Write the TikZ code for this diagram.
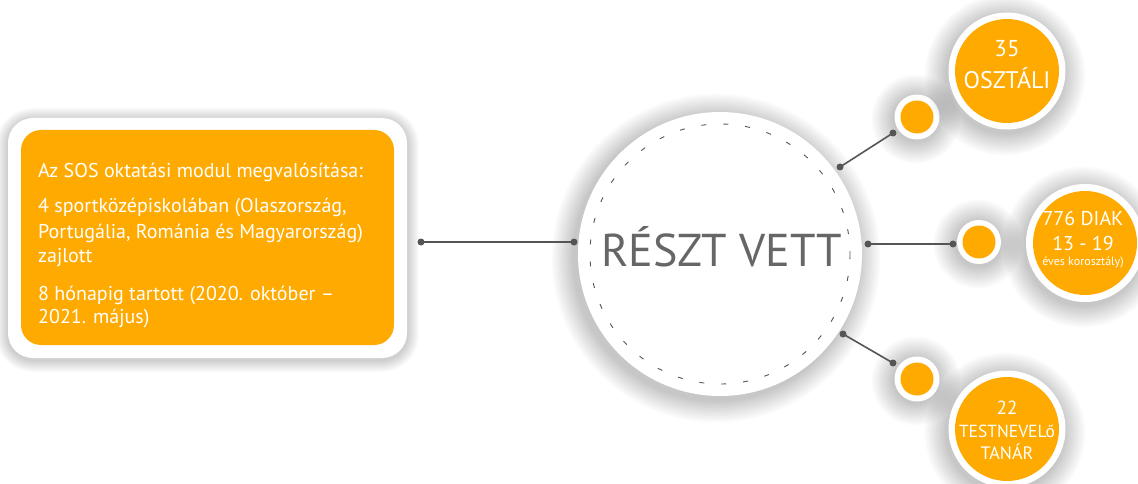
\documentclass[tikz,border=0pt]{standalone}
\usepackage{fontspec}
\setmainfont{PT Sans}
\definecolor{org}{HTML}{FFAA00}
\definecolor{ln}{HTML}{555555}
\definecolor{txtgray}{HTML}{666666}
\newcommand\halo[3]{\foreach \k in {1,...,14}{\fill[black,opacity=0.016] (#1,#2) circle ({#3+\k*1.6});}}
\begin{document}
\begin{tikzpicture}[x=1pt,y=-1pt,
 dot/.style={circle,fill=ln,inner sep=0pt,minimum size=7pt},
 conn/.style={draw=ln,line width=1.6pt},
 ringw/.style={circle,fill=white,inner sep=0pt},
 bub/.style={circle,fill=org,inner sep=0pt},
 wt/.style={text=white,inner sep=0pt,anchor=base},
 bt/.style={text=white,inner sep=0pt,anchor=base west,font=\fontsize{20}{24}\selectfont}
]
\useasboundingbox (0,0) rectangle (1138,484);
\fill[white] (0,0) rectangle (1138,484);
% left box
\foreach \k in {1,...,12}{\fill[black,opacity=0.014,rounded corners={(25+\k)*1pt}] ({8-\k},{120-\k}) rectangle ({407+\k},{360+\k});}
\node[fill=white,rounded corners=25pt,minimum width=399pt,minimum height=240pt,inner sep=0pt] (boxo) at (207.5,238) {};
\node[fill=org,rounded corners=20pt,minimum width=373pt,minimum height=215pt,inner sep=0pt] (box) at (207.5,237.5) {};
\node[bt] (t1) at (38,178) {Az SOS oktatási modul megvalósítása:};
\node[bt] (t2) at (38,212) {4 sportközépiskolában (Olaszország,};
\node[bt] (t3) at (38,238) {Portugália, Románia és Magyarország)};
\node[bt] (t4) at (38,262) {zajlott};
\node[bt] (t5) at (38,300) {8 hónapig tartott (2020. október –};
\node[bt] (t6) at (38,323) {2021. május)};
% main circle
\halo{716}{258}{142}
\node[circle,fill=white,minimum size=284pt,inner sep=0pt] (main) at (720,254) {};
\draw[ln,line width=0.9pt,dash pattern=on 5pt off 17pt] (main.center) circle (130);
\node[text=txtgray,inner sep=0pt,anchor=base,font=\fontsize{46}{46}\selectfont] (lbl) at (722,266) {RÉSZT VETT};
% left connector
\node[dot] (a1) at (421,242) {};
\node[dot] (a2) at (574,242) {};
\draw[conn] (a1.center) -- (a2.center);
% small rings
\halo{916}{119}{22}
\halo{978}{244}{22}
\halo{916}{381}{22}
\node[ringw,minimum size=45pt] (r1) at (917,117) {};
\node[bub,minimum size=33pt] (s1) at (r1) {};
\node[ringw,minimum size=44pt] (r2) at (979,242) {};
\node[bub,minimum size=33pt] (s2) at (r2) {};
\node[ringw,minimum size=45pt] (r3) at (917,379) {};
\node[bub,minimum size=33pt] (s3) at (r3) {};
% connectors
\node[dot] (b1) at (840,167) {};
\node[dot] (c1) at (893,133) {};
\draw[conn] (b1.center) -- (c1.center);
\node[dot] (b2) at (868,244) {};
\node[dot] (c2) at (953,244) {};
\draw[conn] (b2.center) -- (c2.center);
\node[dot] (b3) at (843,334) {};
\node[dot] (c3) at (893,363) {};
\draw[conn] (b3.center) -- (c3.center);
% big bubbles
\halo{1005}{75}{58}
\halo{1083}{247}{58}
\halo{1005}{433}{58}
\node[ringw,minimum size=117pt] (B1) at (1007,71) {};
\node[bub,minimum size=104pt] (O1) at (B1) {};
\node[ringw,minimum size=118pt] (B2) at (1085,243) {};
\node[bub,minimum size=104pt] (O2) at (B2) {};
\node[ringw,minimum size=117pt] (B3) at (1007,429) {};
\node[bub,minimum size=104pt] (O3) at (B3) {};
% bubble texts
\node[wt,font=\fontsize{23}{23}\selectfont] (x1) at (1007,57) {35};
\node[wt,font=\fontsize{24}{24}\selectfont] (x2) at (1007,89) {OSZTÁLI};
\node[wt,font=\fontsize{20}{20}\selectfont] (y1) at (1083,225) {776 DIAK};
\node[wt,font=\fontsize{20}{20}\selectfont] (y2) at (1083,250) {13 - 19};
\node[wt,font=\fontsize{12}{12}\selectfont] (y3) at (1083,265) {éves korosztály)};
\node[wt,font=\fontsize{19}{19}\selectfont] (z1) at (1007,414) {22};
\node[wt,font=\fontsize{17.5}{18}\selectfont] (z2) at (1007,437) {TESTNEVELő};
\node[wt,font=\fontsize{18}{18}\selectfont] (z3) at (1007,459) {TANÁR};
\end{tikzpicture}
\end{document}
